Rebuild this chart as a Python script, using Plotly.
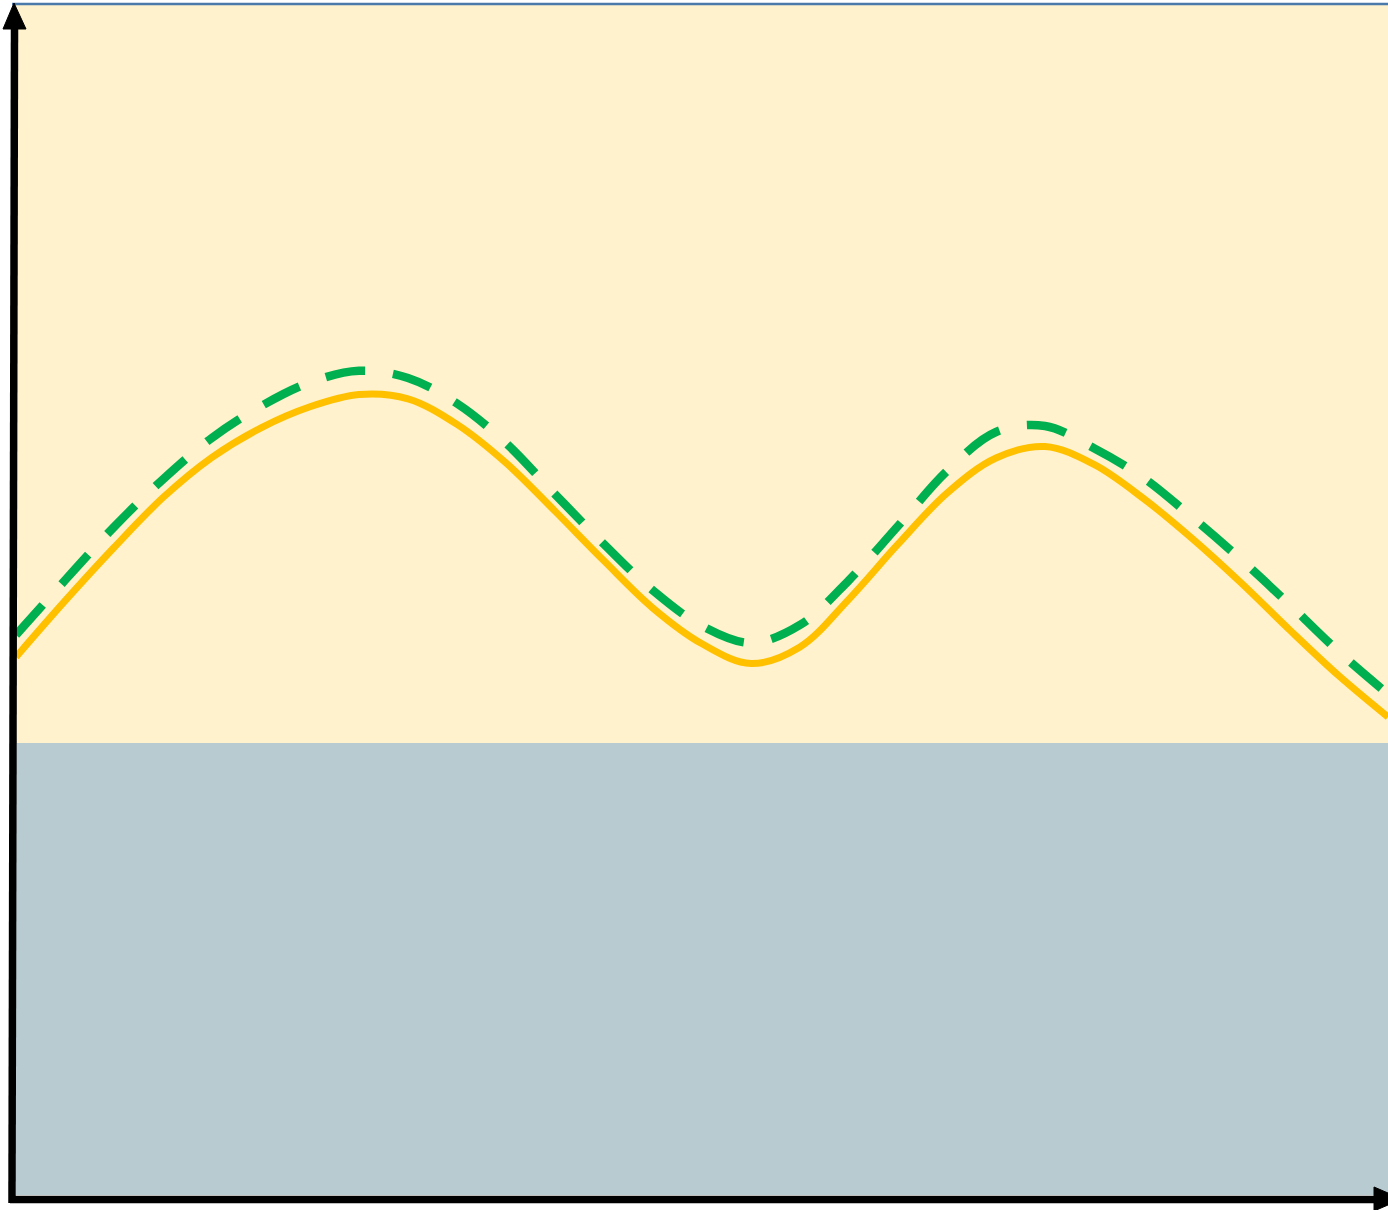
import plotly.graph_objects as go

# ---- data (x: 0..100 along the horizontal axis, y: 0..100 along the vertical axis) ----
x_vals = [0, 3.571, 7.143, 10.714, 14.286, 17.857, 21.429, 25.0, 28.571, 32.143,
          35.714, 39.286, 42.857, 46.429, 50.0, 53.571, 57.143, 60.714, 64.286, 67.857,
          71.429, 75.0, 78.571, 82.143, 85.714, 89.286, 92.857, 96.429, 100]

y_yellow = [45.21, 49.92, 54.41, 58.61, 61.99, 64.47, 66.24, 67.27, 66.91, 64.76,
            61.52, 57.47, 53.29, 49.31, 46.32, 44.66, 46.05, 50.08, 54.69, 58.98,
            61.93, 62.90, 61.39, 58.56, 55.18, 51.45, 47.46, 43.62, 40.17]

y_green = [47.06, 51.66, 56.13, 60.14, 63.63, 66.29, 68.29, 69.26, 68.66, 66.51,
           63.18, 58.89, 54.69, 50.79, 47.82, 46.40, 47.90, 51.67, 56.22, 60.84,
           64.12, 64.62, 62.76, 60.29, 56.96, 53.40, 49.58, 45.64, 42.10]

band_top = 37.98  # upper edge of the lower band

fig = go.Figure()
fig.add_trace(go.Scatter(x=x_vals, y=y_green, mode="lines",
                         line=dict(color="#00B050", width=8.5, dash="40px,28px",
                                   shape="spline", smoothing=1),
                         hoverinfo="skip"))
fig.add_trace(go.Scatter(x=x_vals, y=y_yellow, mode="lines",
                         line=dict(color="#FFC000", width=7, shape="spline", smoothing=1),
                         hoverinfo="skip"))

shapes = [
    # lower band
    dict(type="rect", xref="x", yref="y", x0=0, x1=100, y0=0, y1=band_top,
         fillcolor="#B7CBD0", line=dict(width=0), layer="below"),
    # top border
    dict(type="line", xref="paper", yref="paper", x0=-0.0029, x1=1.0, y0=1.0008, y1=1.0008,
         line=dict(color="#4A7AAA", width=2.5), layer="above"),
    # y axis shaft
    dict(type="line", xref="paper", yref="paper", x0=-0.00292, y0=-0.00672, x1=-0.00109, y1=0.9824,
         line=dict(color="black", width=7.5), layer="above"),
    # y axis arrowhead
    dict(type="path", xref="paper", yref="paper",
         path="M -0.009475 0.97983 L 0.007289 0.97983 L -0.001458 1.00168 Z",
         fillcolor="black", line=dict(color="black", width=1), layer="above"),
    # x axis shaft
    dict(type="line", xref="paper", yref="paper", x0=-0.00437, y0=-0.00378, x1=0.99125, y1=-0.00378,
         line=dict(color="black", width=7.5), layer="above"),
    # x axis arrowhead
    dict(type="path", xref="paper", yref="paper",
         path="M 0.98980 0.006723 L 0.98980 -0.013445 L 1.01020 -0.003361 Z",
         fillcolor="black", line=dict(color="black", width=1), layer="above"),
]

fig.update_layout(
    width=1388, height=1210,
    margin=dict(l=16, r=0, t=5, b=15, pad=0),
    paper_bgcolor="white",
    plot_bgcolor="#FFF2CC",
    showlegend=False,
    xaxis=dict(range=[0, 100], visible=False, fixedrange=True),
    yaxis=dict(range=[0, 100], visible=False, fixedrange=True),
    shapes=shapes,
)

fig.write_html("out.html",
               config={"displayModeBar": False},
               post_script="document.body.style.margin='0';document.body.style.overflow='hidden';")
